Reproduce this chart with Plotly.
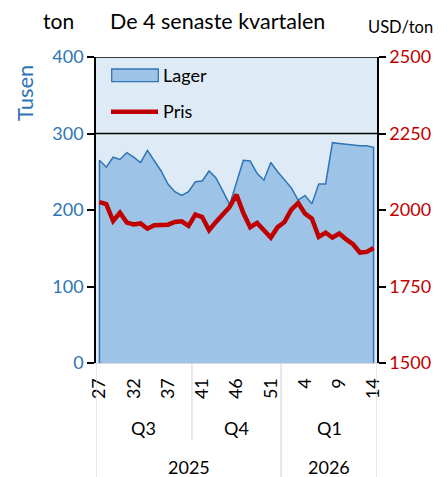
import plotly.graph_objects as go

weeks = list(range(27, 41)) + list(range(40, 53)) + list(range(1, 15))
quarters = ["Q3"] * 14 + ["Q4"] * 13 + ["Q1"] * 14
years = ["2025"] * 27 + ["2026"] * 14

lager = [265, 256, 269, 266, 275, 269, 262, 278, 264, 251, 234, 224, 219, 224,
         237, 238, 251, 242, 225, 207, 236, 265, 264, 248, 239, 262, 250,
         240, 229, 213, 219, 208, 234, 234, 288, 287, 286, 285, 284, 284, 282]
pris = [2026, 2019, 1964, 1991, 1959, 1953, 1956, 1939, 1950, 1950, 1952, 1961, 1963, 1948,
        1985, 1977, 1934, 1961, 1988, 2010, 2050, 1990, 1944, 1958, 1934, 1910, 1944,
        1961, 2001, 2023, 1988, 1972, 1912, 1926, 1910, 1923, 1904, 1888, 1861, 1863, 1876]

left_ticks = [0, 100, 200, 300, 400]
right_ticks = [1500, 1750, 2000, 2250, 2500]

FONT = "Lato"
BLUE = "#2E75B6"
RED = "#C00000"
FILL = "#9DC3E6"
n = len(weeks)
idx = list(range(n))

W, H = 447, 477
ML, MR, MT, MB = 96, 70, 57, 114
PW, PH = W - ML - MR, H - MT - MB


def px(x):
    return (x - ML) / PW


def py(y):
    return (H - MB - y) / PH


fig = go.Figure()
# closed polygon so the area has its outline on both ends (as in the original)
fig.add_trace(go.Scatter(
    x=[idx[0]] + idx + [idx[-1]], y=[0] + lager + [0],
    fill="toself", fillcolor=FILL, mode="lines",
    line=dict(color=BLUE, width=1.5), name="Lager", showlegend=False,
    hoverinfo="skip"))
fig.add_trace(go.Scatter(
    x=idx, y=pris, mode="lines", line=dict(color=RED, width=4.5),
    name="Pris", yaxis="y2", showlegend=False))

tickvals = idx[::5]
ticktext = [str(weeks[i]) for i in tickvals]

fig.update_layout(
    width=W, height=H,
    margin=dict(l=ML, r=MR, t=MT, b=MB, autoexpand=False),
    paper_bgcolor="white", plot_bgcolor="#DEEBF7",
    font=dict(family=FONT, size=18, color="black"),
    showlegend=False,
    xaxis=dict(range=[-0.5, n - 0.5], tickvals=tickvals, ticktext=ticktext,
               tickangle=-90, showgrid=False, zeroline=False, automargin=False,
               showline=True, linecolor="#D9D9D9", linewidth=1,
               ticks="", ticklabelstandoff=7,
               tickfont=dict(size=18, family=FONT, color="black")),
    yaxis=dict(range=[0, 400], tickvals=left_ticks, showgrid=False, zeroline=False,
               automargin=False,
               showline=True, linecolor="black", linewidth=1.5,
               ticks="outside", ticklen=7, tickcolor="black", tickwidth=1.5,
               tickfont=dict(size=18, family=FONT, color=BLUE)),
    yaxis2=dict(range=[1500, 2500], tickvals=right_ticks, overlaying="y", side="right",
                automargin=False,
                showgrid=False, zeroline=False, showline=True, linecolor="black", linewidth=1.5,
                ticks="outside", ticklen=7, tickcolor="black", tickwidth=1.5,
                tickfont=dict(size=18, family=FONT, color=RED)),
)

# top border and the 300 line (legend box bottom)
fig.add_shape(type="line", xref="paper", yref="y", x0=0, x1=1, y0=400, y1=400,
              line=dict(color="black", width=1.5))
fig.add_shape(type="line", xref="paper", yref="y", x0=0, x1=1, y0=300, y1=300,
              line=dict(color="black", width=1.5))

# legend (drawn)
fig.add_shape(type="rect", xref="paper", yref="paper",
              x0=px(111.7), x1=px(158.3), y0=py(81.7), y1=py(69),
              fillcolor=FILL, line=dict(color=BLUE, width=1.3))
fig.add_shape(type="line", xref="paper", yref="paper",
              x0=px(111), x1=px(158), y0=py(111.7), y1=py(111.7),
              line=dict(color=RED, width=4.5))


def ann(x, y, text, size=18, color="black", xanchor="center", **kw):
    fig.add_annotation(x=x, y=y, xref=kw.pop("xref", "paper"), yref="paper",
                       xanchor=xanchor, yanchor="middle", text=text, showarrow=False,
                       font=dict(size=size, family=FONT, color=color), **kw)


ann(px(161), py(75), "Lager", xanchor="left")
ann(px(161), py(111), "Pris", xanchor="left")

# group separators below the axis
bottom = -MB / PH
q_bottom = -(440 - (H - MB)) / PH
bounds = [i for i in range(1, n) if quarters[i] != quarters[i - 1]]
for b in [0] + bounds + [n]:
    full = b in (0, n) or years[b] != years[b - 1]
    fig.add_shape(type="line", xref="x", yref="paper", x0=b - 0.5, x1=b - 0.5,
                  y0=0, y1=bottom if full else q_bottom,
                  line=dict(color="#D9D9D9", width=1.2))


def groups(labels):
    out = []
    start = 0
    for i in range(1, n + 1):
        if i == n or labels[i] != labels[start]:
            out.append((labels[start], start, i - 1))
            start = i
    return out


for lab, s, e in groups(quarters):
    ann((s + e) / 2, py(428), lab, xref="x")
for lab, s, e in groups(years):
    ann((s + e) / 2, py(467), lab, xref="x")

# titles
ann(px(58), py(21), "ton", size=21)
ann(px(217), py(21), "De 4 senaste kvartalen", size=21.5)
ann(px(400), py(27), "USD/ton", size=16.5)
ann(px(24), py(93), "Tusen", color=BLUE, textangle=-90, size=22)

fig.write_html("out.html", config={"displayModeBar": False},
               post_script="document.body.style.margin='0px';")
